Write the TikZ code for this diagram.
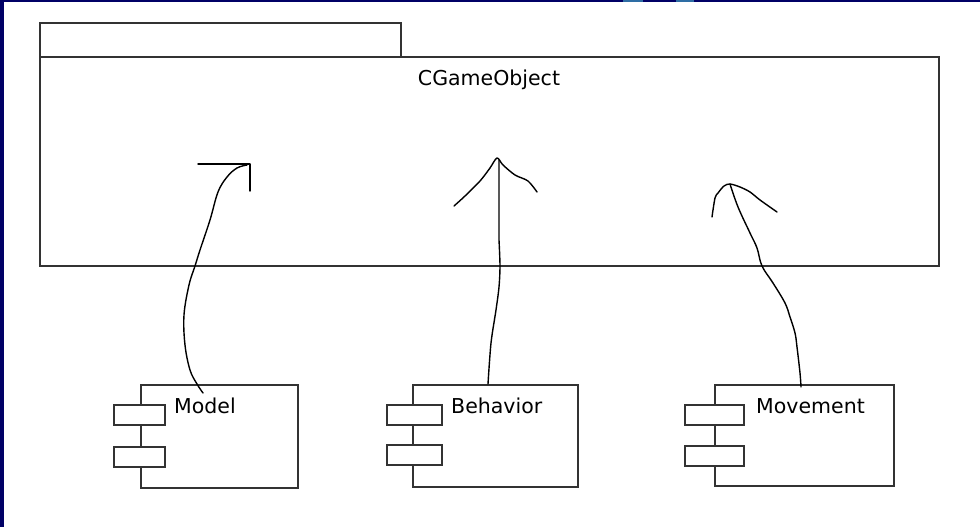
\documentclass[tikz,border=0pt]{standalone}
\usepackage{fontspec}
\setmainfont{DejaVu Sans}
\definecolor{navy}{HTML}{000066}
\definecolor{lblue}{HTML}{2E6DA4}
\begin{document}
\begin{tikzpicture}[x=1pt,y=-1pt,
  frame/.style={draw=black!80, line width=1.7pt, inner sep=0pt, anchor=north west},
  port/.style={draw=black!80, line width=1.6pt, fill=white, inner sep=0pt, anchor=north west, minimum height=20pt},
  hand/.style={draw=black, line width=1.4pt, line join=round, line cap=round},
  lbl/.style={font=\fontsize{20.5}{24}\selectfont, inner sep=0pt, anchor=base west}]
\fill[white] (0,0) rectangle (980,527);
\useasboundingbox (0,0) rectangle (980,527);
\fill[navy] (0,0) rectangle (4,527);
\fill[navy] (0,0) rectangle (980,2);
\fill[lblue] (623,0) rectangle (643,2);
\fill[lblue] (676,0) rectangle (694,2);
% package
\node[frame, minimum width=361pt, minimum height=34pt] (tab) at (39,22) {};
\node[frame, minimum width=899pt, minimum height=209pt] (pkg) at (39,56) {};
\node[lbl, anchor=base] (title) at (489,85) {CGameObject};
% components
\node[frame, minimum width=157pt, minimum height=103pt] (model) at (140,384) {};
\node[port, minimum width=51pt] (mp1) at (113,404) {};
\node[port, minimum width=51pt] (mp2) at (113,446) {};
\node[lbl] (mlabel) at (174,413) {Model};
\node[frame, minimum width=165pt, minimum height=102pt] (behav) at (412,384) {};
\node[port, minimum width=55pt] (bp1) at (386,404) {};
\node[port, minimum width=55pt] (bp2) at (386,444) {};
\node[lbl] (blabel) at (451,413) {Behavior};
\node[frame, minimum width=179pt, minimum height=101pt] (move) at (714,384) {};
\node[port, minimum width=59pt] (vp1) at (684,404) {};
\node[port, minimum width=59pt] (vp2) at (684,445) {};
\node[lbl] (vlabel) at (756,413) {Movement};
% hand-drawn arrows
\coordinate (ms) at (203,393);
\coordinate (mt) at (247,165);
\draw[hand] plot[smooth, tension=0.6] coordinates {(ms) (197,384) (190,370) (185,345) (184,315) (189,285) (195,266) (200,250) (210,220) (218,192) (227,177) (237,168) (mt)};
\draw[hand] (198,164) -- (250,164) -- (250,191);
\coordinate (bs) at (488,384);
\coordinate (bt) at (499,160);
\draw[hand] plot[smooth, tension=0.5] coordinates {(bs) (491,343) (496,310) (499,287) (500,266) (499,240)} -- (bt);
\draw[hand] plot[smooth, tension=0.5] coordinates {(454,206) (465,196) (480,181) (490,168) (497,158) (503,165) (515,175) (528,181) (537,192)};
\coordinate (vs) at (801,387);
\coordinate (vt) at (730,184);
\draw[hand] plot[smooth, tension=0.6] coordinates {(vs) (800,373) (797,347) (795,333) (790,317) (785,303) (773,283) (762,266) (757,248) (750,233) (738,207) (vt)};
\draw[hand] plot[smooth, tension=0.5] coordinates {(712,217) (715,198) (718,193) (724,186) (730,184) (740,187) (750,192) (760,200) (777,212)};
\end{tikzpicture}
\end{document}
